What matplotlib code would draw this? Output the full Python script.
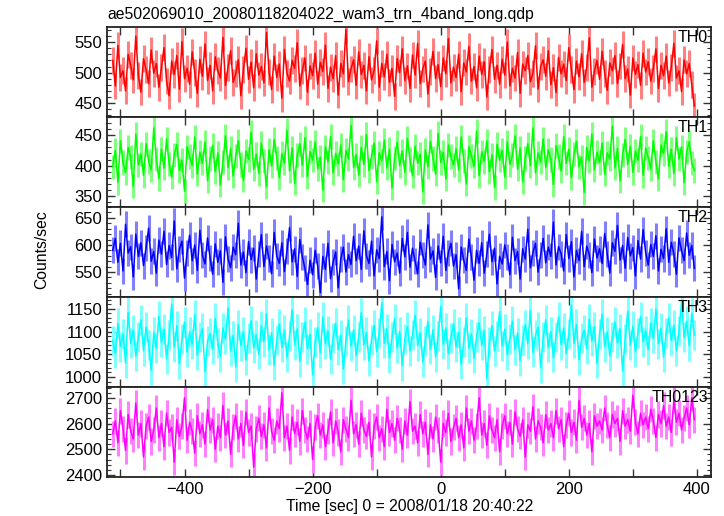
import numpy as np
import matplotlib
matplotlib.use("Agg")
import matplotlib.pyplot as plt
from matplotlib.ticker import MultipleLocator, FuncFormatter
from matplotlib.colors import to_rgb

plt.rcParams['font.family'] = ['Liberation Sans', 'DejaVu Sans']

# time grid: 4 s bins from -512 s
t_start = -512
t_step = 4

th0 = [520, 478, 545, 492, 503, 470, 530, 512, 488, 560, 495, 468, 523, 505, 482, 537, 499, 515, 476,
       508, 541, 486, 462, 519, 497, 528, 473, 551, 490, 507, 481, 534, 500, 466, 522, 494, 547, 487,
       512, 470, 526, 503, 491, 558, 479, 509, 536, 484, 498, 521, 462, 505, 540, 489, 517, 475, 531,
       496, 510, 483, 566, 501, 472, 527, 492, 514, 458, 538, 499, 486, 520, 507, 549, 478, 503, 524,
       468, 511, 495, 532, 481, 517, 502, 545, 474, 509, 490, 528, 463, 515, 498, 571, 485, 506, 521,
       479, 534, 497, 512, 470, 526, 488, 503, 552, 476, 515, 493, 530, 484, 507, 461, 523, 500, 539,
       487, 511, 474, 529, 496, 548, 482, 506, 519, 465, 502, 535, 490, 513, 477, 524, 498, 556, 483,
       509, 492, 530, 469, 516, 501, 543, 486, 510, 475, 527, 497, 518, 460, 505, 538, 489, 512, 481,
       522, 496, 550, 478, 507, 491, 533, 466, 514, 503, 528, 485, 499, 544, 473, 510, 521, 494, 536,
       480, 508, 467, 525, 498, 514, 487, 541, 505, 472, 519, 493, 531, 484, 509, 557, 476, 502, 520,
       489, 535, 499, 471, 516, 503, 528, 482, 511, 546, 490, 506, 463, 524, 497, 513, 479, 532, 501,
       518, 486, 507, 539, 474, 512, 495, 527, 483, 509, 548, 491, 503, 469, 521, 498, 515, 480, 445]

th1 = [398, 425, 372, 441, 405, 389, 430, 414, 366, 452, 401, 419, 384, 436, 407, 393, 462, 411, 379,
       427, 396, 444, 403, 381, 418, 435, 392, 409, 358, 431, 415, 400, 447, 386, 422, 404, 439, 375,
       412, 433, 390, 421, 368, 406, 449, 397, 428, 383, 416, 441, 402, 376, 424, 410, 455, 394, 419,
       387, 437, 408, 365, 426, 399, 443, 413, 380, 420, 404, 458, 391, 429, 371, 417, 436, 401, 446,
       382, 423, 409, 439, 395, 414, 360, 431, 406, 448, 388, 420, 403, 434, 377, 425, 411, 466, 397,
       418, 385, 430, 402, 451, 392, 415, 437, 374, 421, 408, 442, 396, 427, 363, 413, 438, 400, 424,
       389, 445, 410, 383, 432, 404, 419, 357, 426, 398, 440, 412, 386, 453, 405, 422, 378, 434, 415,
       401, 428, 393, 447, 408, 370, 431, 416, 399, 457, 384, 423, 407, 441, 390, 418, 364, 435, 409,
       425, 381, 439, 402, 417, 449, 394, 429, 373, 412, 436, 400, 462, 388, 421, 406, 444, 397, 426,
       410, 369, 433, 415, 391, 448, 404, 427, 380, 419, 440, 398, 414, 356, 430, 408, 452, 393, 422,
       405, 437, 386, 421, 411, 465, 396, 428, 375, 417, 443, 402, 432, 389, 424, 409, 448, 384, 429,
       413, 395, 441, 406, 378, 434, 420, 456, 399, 427, 387, 446, 411, 431, 372, 423, 439, 404, 392]

th2 = [590, 612, 568, 603, 552, 638, 585, 597, 541, 620, 579, 604, 562, 595, 631, 570, 588, 548, 609,
       583, 625, 564, 599, 577, 644, 556, 592, 607, 539, 586, 618, 571, 600, 553, 627, 581, 565, 613,
       576, 546, 602, 568, 589, 531, 615, 574, 558, 596, 582, 640, 563, 587, 549, 606, 573, 594, 537,
       584, 619, 560, 598, 575, 547, 623, 580, 566, 604, 551, 589, 632, 569, 593, 542, 610, 578, 557,
       527, 572, 545, 590, 561, 512, 579, 555, 603, 538, 568, 587, 521, 574, 596, 550, 582, 564, 616,
       571, 598, 555, 626, 580, 566, 607, 543, 591, 575, 652, 560, 588, 534, 601, 569, 585, 548, 612,
       578, 623, 559, 594, 570, 547, 605, 582, 563, 637, 574, 589, 540, 598, 567, 616, 553, 586, 603,
       561, 582, 519, 596, 572, 553, 611, 577, 535, 590, 566, 604, 548, 583, 620, 569, 594, 528, 579,
       565, 600, 578, 545, 614, 571, 588, 537, 593, 574, 629, 558, 586, 603, 550, 581, 612, 567, 596,
       579, 642, 563, 597, 584, 552, 619, 575, 606, 541, 590, 571, 625, 560, 598, 582, 549, 611, 576,
       593, 566, 621, 583, 548, 604, 588, 636, 572, 599, 557, 614, 580, 595, 543, 608, 574, 628, 586,
       563, 601, 579, 617, 552, 592, 575, 630, 568, 605, 584, 546, 613, 590, 571, 622, 581, 599, 557]

th3 = [1080, 1052, 1118, 1067, 1095, 1031, 1142, 1074, 1103, 1046, 1089, 1126, 1058, 1110, 1071, 1015, 1098, 1063, 1134,
       1077, 1105, 1040, 1092, 1160, 1066, 1113, 1029, 1084, 1121, 1055, 1099, 1072, 1137, 1048, 1088, 1107, 1012, 1079,
       1096, 1061, 1129, 1075, 1044, 1108, 1083, 1152, 1057, 1091, 1022, 1115, 1069, 1100, 1037, 1086, 1124, 1064, 1093,
       1050, 1112, 1078, 1139, 1059, 1097, 1026, 1081, 1117, 1065, 1103, 1043, 1090, 1148, 1070, 1106, 1034, 1087, 1120,
       1062, 1094, 1005, 1076, 1109, 1053, 1131, 1073, 1101, 1039, 1085, 1118, 1060, 1092, 1018, 1079, 1125, 1068, 1104,
       1047, 1089, 1141, 1071, 1098, 1035, 1082, 1114, 1056, 1096, 1163, 1074, 1106, 1042, 1087, 1128, 1064, 1100, 1025,
       1083, 1111, 1058, 1093, 1136, 1069, 1097, 1033, 1080, 1122, 1061, 1104, 1045, 1090, 1155, 1072, 1108, 1051, 1086,
       1117, 1066, 1099, 1028, 1078, 1130, 1063, 1095, 1041, 1088, 1119, 1070, 1102, 997, 1076, 1113, 1057, 1091, 1144,
       1068, 1105, 1049, 1084, 1123, 1060, 1097, 1036, 1081, 1115, 1073, 1147, 1054, 1092, 1110, 1020, 1087, 1126, 1065,
       1100, 1043, 1089, 1132, 1071, 1108, 1052, 1095, 1158, 1074, 1116, 1038, 1085, 1103, 1062, 1127, 1079, 1111, 1030,
       1094, 1138, 1067, 1099, 1046, 1088, 1121, 1075, 1106, 1014, 1083, 1145, 1070, 1112, 1055, 1097, 1133, 1078, 1102,
       1060, 1119, 1085, 1150, 1073, 1107, 1044, 1096, 1129, 1080, 1114, 1058, 1101, 1166, 1087, 1123, 1069, 1140, 1092]

th0123 = [2560, 2610, 2525, 2650, 2580, 2495, 2635, 2570, 2540, 2680, 2555, 2600, 2470, 2590, 2625, 2530, 2575, 2660, 2545,
          2600, 2510, 2640, 2565, 2585, 2450, 2615, 2550, 2590, 2700, 2535, 2605, 2570, 2485, 2630, 2560, 2595, 2520, 2655,
          2575, 2615, 2500, 2590, 2545, 2670, 2555, 2610, 2480, 2585, 2630, 2540, 2600, 2515, 2645, 2565, 2590, 2430, 2580,
          2620, 2550, 2595, 2505, 2660, 2570, 2535, 2610, 2580, 2720, 2545, 2590, 2495, 2625, 2560, 2605, 2530, 2650, 2575,
          2540, 2600, 2460, 2585, 2630, 2555, 2595, 2510, 2570, 2645, 2525, 2610, 2565, 2490, 2615, 2580, 2545, 2690, 2560,
          2595, 2520, 2640, 2575, 2550, 2605, 2470, 2590, 2625, 2545, 2580, 2510, 2655, 2565, 2600, 2535, 2620, 2575, 2500,
          2610, 2555, 2685, 2570, 2590, 2525, 2635, 2560, 2605, 2480, 2595, 2540, 2625, 2575, 2450, 2600, 2565, 2640, 2530,
          2585, 2620, 2545, 2595, 2505, 2660, 2570, 2610, 2535, 2590, 2700, 2555, 2600, 2515, 2630, 2575, 2545, 2615, 2490,
          2590, 2630, 2560, 2605, 2520, 2645, 2580, 2550, 2615, 2470, 2595, 2570, 2665, 2540, 2610, 2585, 2525, 2635, 2575,
          2600, 2545, 2650, 2580, 2615, 2510, 2595, 2640, 2565, 2605, 2535, 2690, 2585, 2620, 2555, 2600, 2490, 2630, 2590,
          2610, 2575, 2660, 2595, 2545, 2635, 2600, 2620, 2530, 2650, 2590, 2615, 2570, 2710, 2605, 2560, 2640, 2595, 2625,
          2580, 2655, 2610, 2545, 2635, 2600, 2670, 2590, 2625, 2565, 2690, 2605, 2640, 2575, 2620, 2660, 2595, 2700, 2615]

names = ['TH0', 'TH1', 'TH2', 'TH3', 'TH0123']
series = [th0, th1, th2, th3, th0123]
errors = [22, 20, 24, 33, 51]
colors = ['#ff0000', '#00ff00', '#0000ff', '#00ffff', '#ff00ff']
ylims = [(427, 575), (332, 480), (504, 670), (978, 1176), (2392, 2742)]
ymajor = [50, 50, 50, 50, 100]
yminor = [10, 10, 10, 10, 20]

fig = plt.figure(figsize=(7.24, 5.16), dpi=100)

W, H = 724.0, 516.0
left, right = 107, 711
top, ph = 27, 90

for i in range(5):
    y = np.array(series[i], dtype=float)
    t = t_start + t_step * np.arange(len(y))
    ax = fig.add_axes([left / W, 1 - (top + ph * (i + 1)) / H, (right - left) / W, ph / H])
    c = np.array(to_rgb(colors[i]))
    light = c * 0.5 + 0.5
    ax.vlines(t, y - errors[i], y + errors[i], color=light, linewidth=2.2)
    ax.plot(t, y, color=colors[i], linewidth=1.1)
    ax.set_xlim(-521, 422)
    ax.set_ylim(*ylims[i])
    ax.xaxis.set_major_locator(MultipleLocator(100))
    ax.yaxis.set_major_locator(MultipleLocator(ymajor[i]))
    ax.yaxis.set_minor_locator(MultipleLocator(yminor[i]))
    ax.tick_params(which='both', direction='in', top=True, right=True, labelsize=12, color='#333333')
    ax.tick_params(which='major', length=6, width=1)
    ax.tick_params(which='minor', length=3, width=0.8)
    for s in ax.spines.values():
        s.set_linewidth(1.3)
        s.set_color('#222222')
    if i < 4:
        ax.set_xticklabels([])
    else:
        ax.xaxis.set_major_formatter(FuncFormatter(
            lambda v, p: ('%d' % v).replace('-', '\u2212') if abs(v) % 200 == 0 else ''))
    ax.text(0.995, 0.97, names[i], transform=ax.transAxes, ha='right', va='top', fontsize=11.5)

fig.text(left / W, 1 - 14 / H, 'ae502069010_20080118204022_wam3_trn_4band_long.qdp',
         ha='left', va='center', fontsize=11.3)
fig.text(42 / W, 1 - 250 / H, 'Counts/sec', rotation=90, ha='center', va='center', fontsize=11.3)
fig.text(410 / W, 1 - 507 / H, 'Time [sec] 0 = 2008/01/18 20:40:22', ha='center', va='center', fontsize=11.3)

fig.savefig('out.png', dpi=100)
